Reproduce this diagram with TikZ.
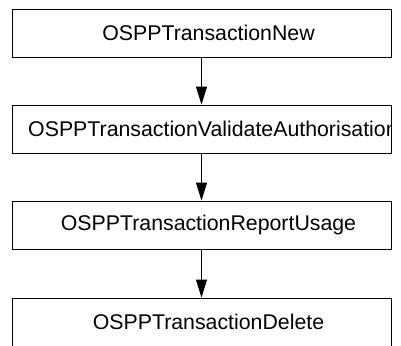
\documentclass[tikz,border=0pt]{standalone}
\usepackage{fontspec}
\setmainfont{Liberation Sans}
\usetikzlibrary{arrows.meta}
\begin{document}
\begin{tikzpicture}
[x=1pt,y=1pt,
  boxDecorate/.style={shape=rectangle,draw,line width=0.9pt,inner sep=0pt,minimum width=379pt,minimum height=48pt},%
  textDecorate/.style={font=\fontsize{21.3}{26}\selectfont,inner sep=0pt},%
  lineDecorate/.style={-{Triangle[length=18pt,width=11pt]},line width=0.9pt}]
\useasboundingbox (0,0) rectangle (401,-345);
\clip (0,0) rectangle (401,-345);
%% boxes
\foreach \nodename/\y/\boxtext in {new/-33/OSPPTransactionNew, report/-225/OSPPTransactionReportUsage, delete/-322/OSPPTransactionDelete}
{
  \node (\nodename) at (201.5,\y) [boxDecorate,path picture={\node[textDecorate] at ([xshift=7pt]path picture bounding box.center) {\boxtext};}] {};
}
\node (validate) at (201.5,-129) [boxDecorate,path picture={\node[textDecorate,anchor=west] at ([xshift=11pt]path picture bounding box.west) {OSPPTransactionValidateAuthorisation};}] {};
%% arrows
\path
\foreach \startnode/\endnode in {new/validate, validate/report, report/delete}
{
  (\startnode) edge[lineDecorate] (\endnode)
};
\end{tikzpicture}
\end{document}
